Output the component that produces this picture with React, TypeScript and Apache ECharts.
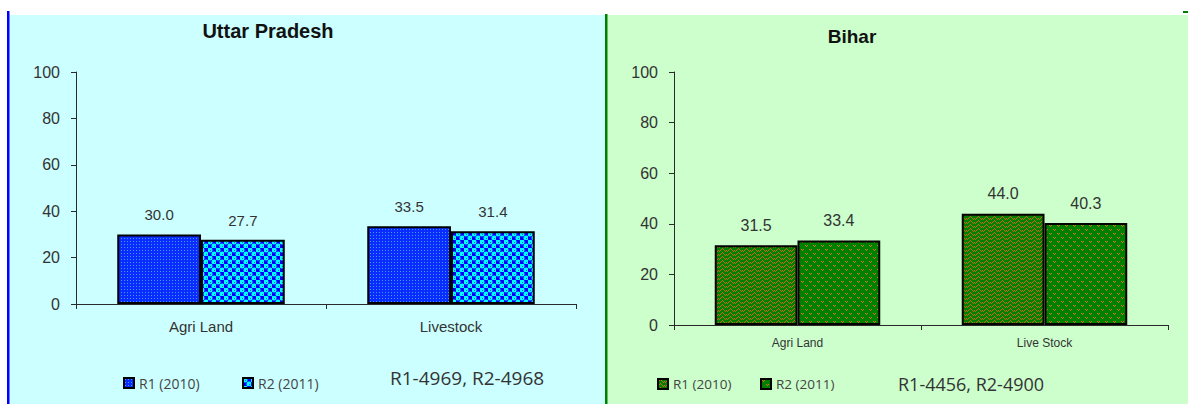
import { useEffect, useRef } from 'react';
import * as echarts from 'echarts';

// Survey shares (%) by round, two states side by side
const seriesLabels = ['R1 (2010)', 'R2 (2011)'];

const upCategories = ['Agri Land', 'Livestock'];
const upR1 = [30.0, 33.5];
const upR2 = [27.7, 31.4];
const upNote = 'R1-4969, R2-4968';

const biharCategories = ['Agri Land', 'Live Stock'];
const biharR1 = [31.5, 44.0];
const biharR2 = [33.4, 40.3];
const biharNote = 'R1-4456, R2-4900';

const yMin = 0;
const yMax = 100;
const yStep = 20;

type Ctx = CanvasRenderingContext2D;

function tile(w: number, h: number, draw: (ctx: Ctx) => void) {
  const c = document.createElement('canvas');
  c.width = w;
  c.height = h;
  const ctx = c.getContext('2d') as Ctx;
  draw(ctx);
  return { image: c, repeat: 'repeat', imageWidth: w, imageHeight: h } as any;
}

function dots(ctx: Ctx, color: string, pts: number[][]) {
  ctx.fillStyle = color;
  pts.forEach(([x, y]) => ctx.fillRect(x, y, 1, 1));
}

// Excel-style pattern fills
function fineBlue() {
  return tile(3, 3, (ctx) => {
    ctx.fillStyle = '#0a2cff';
    ctx.fillRect(0, 0, 3, 3);
    dots(ctx, '#3c9cff', [[1, 1]]);
  });
}

function sphereCyan() {
  return tile(8, 8, (ctx) => {
    ctx.fillStyle = '#0000ff';
    ctx.fillRect(0, 0, 8, 8);
    ctx.fillStyle = '#00ffff';
    [[2, 2], [6, 6]].forEach(([x, y]) => {
      ctx.beginPath();
      ctx.arc(x, y, 2.5, 0, Math.PI * 2);
      ctx.fill();
    });
    dots(ctx, '#2060ff', [[2, 2], [6, 6]]);
  });
}

function zigzagGreen() {
  return tile(8, 4, (ctx) => {
    ctx.fillStyle = '#008000';
    ctx.fillRect(0, 0, 8, 4);
    dots(ctx, '#d06810', [
      [0, 2], [1, 1], [2, 0], [3, 1], [4, 2], [5, 3], [6, 2], [7, 3],
    ]);
  });
}

function speckGreen() {
  return tile(8, 8, (ctx) => {
    ctx.fillStyle = '#008000';
    ctx.fillRect(0, 0, 8, 8);
    dots(ctx, '#e0701a', [
      [1, 1], [2, 2], [3, 1],
      [5, 5], [6, 6], [7, 5],
    ]);
  });
}

const axisColor = '#2a2a2a';
const textColor = '#333333';
const sansFont = '"Liberation Sans", Arial, sans-serif';
const noteFont = '"Open Sans", sans-serif';

function axes(
  gridIndex: number,
  categories: string[],
  catFont: number,
  catMargin: number
) {
  const x = {
    type: 'category',
    gridIndex,
    data: categories,
    axisLine: { lineStyle: { color: axisColor, width: 1 } },
    axisTick: {
      show: true,
      interval: 0,
      alignWithLabel: false,
      length: 5,
      lineStyle: { color: axisColor },
    },
    axisLabel: {
      interval: 0,
      color: textColor,
      fontFamily: sansFont,
      fontSize: catFont,
      margin: catMargin,
    },
  };
  const y = {
    type: 'value',
    gridIndex,
    min: yMin,
    max: yMax,
    interval: yStep,
    splitLine: { show: false },
    axisLine: { show: true, lineStyle: { color: axisColor, width: 1 } },
    axisTick: { show: true, length: 5, lineStyle: { color: axisColor } },
    axisLabel: {
      color: textColor,
      fontFamily: sansFont,
      fontSize: 16,
      margin: 16,
    },
  };
  return { x, y };
}

function bar(
  name: string,
  idx: number,
  values: number[],
  fill: any,
  labelSize: number
) {
  return {
    type: 'bar',
    name,
    xAxisIndex: idx,
    yAxisIndex: idx,
    data: values,
    barGap: '0%',
    barCategoryGap: '33%',
    itemStyle: { color: fill, borderColor: '#000000', borderWidth: 2 },
    label: {
      show: true,
      position: 'top',
      distance: 12,
      color: textColor,
      fontFamily: sansFont,
      fontSize: labelSize,
      formatter: (p: any) => Number(p.value).toFixed(1),
    },
  };
}

function legendAt(name: string, left: number, top: number, size: number) {
  return {
    data: [name],
    left,
    top,
    padding: 0,
    selectedMode: false,
    icon: 'rect',
    itemWidth: 10,
    itemHeight: 10,
    formatter: (n: string) => n.slice(n.indexOf(' ') + 1),
    textStyle: { color: '#444444', fontFamily: noteFont, fontSize: size },
  };
}

export default function App() {
  const ref = useRef<HTMLDivElement>(null);

  useEffect(() => {
    if (!ref.current) return;
    const chart = echarts.init(ref.current, null, { renderer: 'svg' });

    const up = axes(0, upCategories, 15, 15);
    const bh = axes(1, biharCategories, 12, 12);

    const upR1Name = 'UP ' + seriesLabels[0];
    const upR2Name = 'UP ' + seriesLabels[1];
    const bhR1Name = 'BH ' + seriesLabels[0];
    const bhR2Name = 'BH ' + seriesLabels[1];

    chart.setOption({
      animation: false,
      backgroundColor: '#ffffff',
      title: [
        {
          text: 'Uttar Pradesh',
          left: 268,
          top: 21,
          padding: 0,
          textAlign: 'center',
          textStyle: {
            fontFamily: sansFont,
            fontWeight: 'bold',
            fontSize: 20,
            color: '#111111',
          },
        },
        {
          text: 'Bihar',
          left: 852,
          top: 27,
          padding: 0,
          textAlign: 'center',
          textStyle: {
            fontFamily: sansFont,
            fontWeight: 'bold',
            fontSize: 19,
            color: '#111111',
          },
        },
      ],
      graphic: [
        { type: 'rect', z: -10, shape: { x: 7, y: 15, width: 599, height: 389 }, style: { fill: '#ccffff' } },
        { type: 'rect', z: -10, shape: { x: 606, y: 15, width: 582, height: 389 }, style: { fill: '#ccffcc' } },
        { type: 'rect', z: -9, shape: { x: 7, y: 11, width: 2.5, height: 393 }, style: { fill: '#0000ff' } },
        { type: 'rect', z: -9, shape: { x: 605, y: 14, width: 2.5, height: 390 }, style: { fill: '#008000' } },
        { type: 'rect', z: -9, shape: { x: 1183, y: 11, width: 5, height: 2 }, style: { fill: '#008000' } },
        {
          type: 'text',
          x: 390,
          y: 378,
          style: {
            text: upNote,
            font: '19px "Open Sans", sans-serif',
            fill: '#333333',
            align: 'left',
            verticalAlign: 'middle',
            textAlign: 'left',
            textVerticalAlign: 'middle',
          },
        },
        {
          type: 'text',
          x: 898,
          y: 384,
          style: {
            text: biharNote,
            font: '18px "Open Sans", sans-serif',
            fill: '#333333',
            align: 'left',
            verticalAlign: 'middle',
            textAlign: 'left',
            textVerticalAlign: 'middle',
          },
        },
      ],
      legend: [
        legendAt(upR1Name, 123, 376, 14),
        legendAt(upR2Name, 242, 376, 14),
        legendAt(bhR1Name, 657, 377, 13.5),
        legendAt(bhR2Name, 760, 377, 13.5),
      ],
      grid: [
        { left: 76, top: 72, width: 500, height: 232 },
        { left: 674, top: 72, width: 494, height: 253 },
      ],
      xAxis: [up.x, bh.x],
      yAxis: [up.y, bh.y],
      series: [
        bar(upR1Name, 0, upR1, fineBlue(), 15),
        bar(upR2Name, 0, upR2, sphereCyan(), 15),
        bar(bhR1Name, 1, biharR1, zigzagGreen(), 16),
        bar(bhR2Name, 1, biharR2, speckGreen(), 16),
      ],
    } as any);

    return () => chart.dispose();
  }, []);

  return (
    <div
      ref={ref}
      style={{ position: 'absolute', left: 0, top: 0, width: 1188, height: 404 }}
    />
  );
}
